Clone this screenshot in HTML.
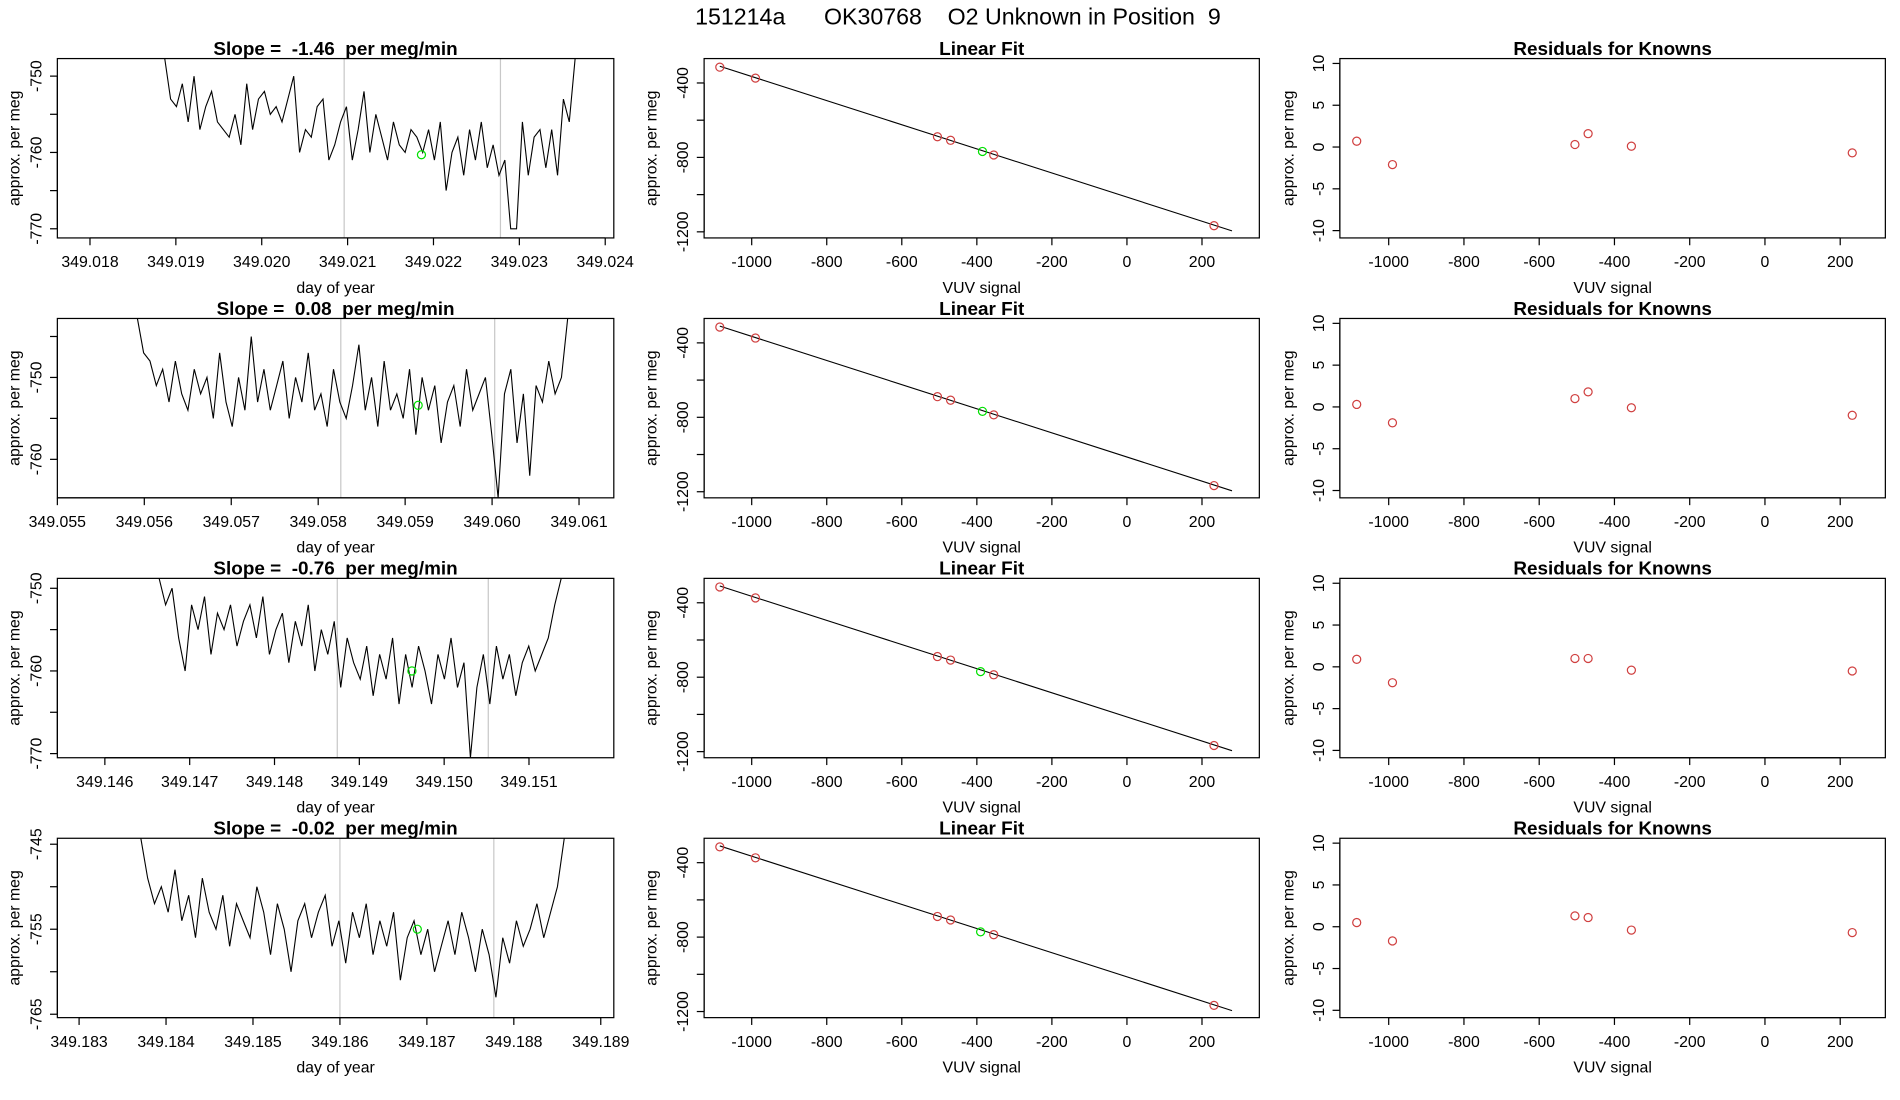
<!DOCTYPE html>
<html><head><meta charset="utf-8"><style>
html,body{margin:0;padding:0;background:#fff;}
svg{display:block;font-family:"Liberation Sans",sans-serif;}
text{white-space:pre;}
</style></head>
<body>
<svg id="fig" width="1900" height="1100" viewBox="0 0 1557 901.5" preserveAspectRatio="none" xmlns="http://www.w3.org/2000/svg">
<text x="785" y="20" font-size="19" text-anchor="middle" xml:space="preserve">151214a      OK30768    O2 Unknown in Position  9</text>
</svg>
<script>
// ---- data ----
const slopes = ["-1.46", "0.08", "-0.76", "-0.02"];
const tsStart = [349.01887, 349.05592, 349.14664, 349.18371];
const tsEnd = [349.02365, 349.06087, 349.15138, 349.18858];
const greenT = [349.02186, 349.05915, 349.14962, 349.18689];
const greenV = [-760.3, -753.4, -760, -755];
const vlines1 = [349.02096, 349.02278];
const vlines2 = [349.05826, 349.06003];
const vlines3 = [349.14874, 349.15052];
const vlines4 = [349.18600, 349.18777];
const series1 = [-745,-753,-754,-751,-756,-750,-757,-754,-752,-756,-757,-758,-755,-759,-751,-757,-753,-752,-755,-754,-756,-753,-750,-760,-757,-758,-754,-753,-761,-759,-756,-754,-761,-757,-752,-760,-755,-758,-761,-756,-759,-760,-757,-758,-760,-757,-761,-756,-765,-760,-758,-763,-757,-761,-756,-762,-759,-763,-761,-770,-770,-756,-763,-758,-757,-762,-757,-763,-753,-756,-745];
const series2 = [-742,-747,-748,-751,-749,-753,-748,-752,-754,-749,-752,-750,-755,-747,-753,-756,-750,-754,-745,-753,-749,-754,-751,-748,-755,-750,-753,-747,-754,-752,-756,-749,-753,-755,-751,-746,-754,-750,-756,-748,-754,-752,-755,-749,-757,-750,-754,-751,-758,-753,-751,-756,-749,-754,-752,-750,-757,-765,-752,-749,-758,-752,-762,-751,-753,-748,-752,-750,-742];
const series3 = [-747,-752,-750,-756,-760,-752,-755,-751,-758,-753,-755,-752,-757,-754,-752,-756,-751,-758,-755,-753,-759,-754,-757,-752,-760,-755,-758,-754,-762,-756,-759,-761,-757,-763,-758,-761,-756,-764,-758,-762,-757,-760,-764,-758,-761,-756,-762,-759,-771,-762,-758,-764,-757,-761,-758,-763,-759,-757,-760,-758,-756,-752,-747];
const series4 = [-744,-749,-752,-750,-753,-748,-754,-751,-756,-749,-753,-755,-751,-757,-752,-754,-756,-750,-753,-758,-752,-755,-760,-754,-752,-756,-753,-751,-757,-754,-759,-753,-756,-752,-758,-754,-757,-753,-761,-756,-754,-758,-755,-760,-757,-754,-758,-753,-756,-760,-755,-758,-763,-756,-759,-754,-757,-755,-752,-756,-753,-750,-744];
const xTicks1 = ["349.018","349.019","349.020","349.021","349.022","349.023","349.024"];
const xTicks2 = ["349.055","349.056","349.057","349.058","349.059","349.060","349.061"];
const xTicks3 = ["349.146","349.147","349.148","349.149","349.150","349.151"];
const xTicks4 = ["349.183","349.184","349.185","349.186","349.187","349.188","349.189"];
const yTicks1 = [-750,-755,-760,-765,-770];
const yTicks2 = [-745,-750,-755,-760];
const yTicks3 = [-750,-755,-760,-765,-770];
const yTicks4 = [-745,-750,-755,-760,-765];
const yLab1 = [-750,-760,-770];
const yLab2 = [-750,-760];
const yLab3 = [-750,-760,-770];
const yLab4 = [-745,-755,-765];
const yDom = [[-747.7,-771.2],[-742.8,-764.7],[-748.8,-770.5],[-744.3,-765.4]];
const xDom = [[349.01762,349.02410],[349.05500,349.06140],[349.14544,349.15200],[349.18275,349.18915]];
// linear fit + residuals
const knownX = [-1085,-990,-505,-470,-355,232];
const knownY = [-315,-374,-689,-708,-787,-1167];
const unkX = [-385,-385,-390,-390];
const unkY = [-768,-768,-770,-772];
const fitX = [-1085,280];
const fitY = [-310,-1195];
const resid1 = [0.7,-2.1,0.3,1.6,0.1,-0.7];
const resid2 = [0.3,-1.9,1.0,1.8,-0.1,-1.0];
const resid3 = [0.9,-1.9,1.0,1.0,-0.4,-0.5];
const resid4 = [0.5,-1.7,1.3,1.1,-0.4,-0.7];
const vuvTicks = [-1000,-800,-600,-400,-200,0,200];
const fitYTicks = [-400,-600,-800,-1000,-1200];
const fitYLab = [-400,-800,-1200];
const resTicks = [-10,-5,0,5,10];

const seriesAll=[series1,series2,series3,series4];
const xTicksAll=[xTicks1,xTicks2,xTicks3,xTicks4];
const yTicksAll=[yTicks1,yTicks2,yTicks3,yTicks4];
const yLabAll=[yLab1,yLab2,yLab3,yLab4];
const vlinesAll=[vlines1,vlines2,vlines3,vlines4];
const residAll=[resid1,resid2,resid3,resid4];

const svg=document.getElementById('fig');
const NS='http://www.w3.org/2000/svg';
function mk(tag,attrs,parent){const e=document.createElementNS(NS,tag);for(const k in attrs)e.setAttribute(k,attrs[k]);(parent||svg).appendChild(e);return e;}
function txt(s,x,y,size,anchor,parent,rot,bold){const e=mk('text',{x:x,y:y,'font-size':size,'text-anchor':anchor||'middle',fill:'#000'},parent);if(rot)e.setAttribute('transform','rotate(-90 '+x+' '+y+')');if(bold)e.setAttribute('font-weight','bold');e.textContent=s;return e;}
function lin(d0,d1,p0,p1){return v=>p0+(v-d0)*(p1-p0)/(d1-d0);}

const cols=[{l:47,r:503},{l:577,r:1032},{l:1098,r:1545}];
for(let row=0;row<4;row++){
  const top=48+row*213, bot=top+147;
  // ---- column 1 ----
  let g=mk('g',{});
  
  
  const xs=lin(xDom[row][0],xDom[row][1],cols[0].l,cols[0].r);
  const ys=lin(yDom[row][0],yDom[row][1],top,bot);
  vlinesAll[row].forEach(t=>{const e=mk('line',{x1:xs(t),x2:xs(t),y1:top,y2:bot,stroke:'#c8c8c8','stroke-width':1},g);
    });
  const s=seriesAll[row];const n=s.length;
  let d='';
  s.forEach((v,i)=>{const t=tsStart[row]+(tsEnd[row]-tsStart[row])*i/(n-1);const yy=Math.max(top,Math.min(bot,ys(v)));d+=(i?'L':'M')+xs(t).toFixed(1)+' '+yy.toFixed(1);});
  const ln=mk('path',{d:d,fill:'none',stroke:'#000','stroke-width':0.9},g);
  
  const gp=mk('circle',{cx:xs(greenT[row]),cy:ys(greenV[row]),r:3.3,fill:'none',stroke:'#00e000','stroke-width':1},g);
  
  mk('rect',{x:cols[0].l,y:top,width:cols[0].r-cols[0].l,height:bot-top,fill:'none',stroke:'#000','stroke-width':1},g);
  const xt=xTicksAll[row];
  mk('line',{x1:xs(+xt[0]),x2:xs(+xt[xt.length-1]),y1:bot,y2:bot,stroke:'#000'},g);
  xt.forEach(t=>{mk('line',{x1:xs(+t),x2:xs(+t),y1:bot,y2:bot+6,stroke:'#000'},g);
    const e=txt(t,xs(+t),bot+24,13,'middle',g);});
  const yt=yTicksAll[row];
  mk('line',{x1:cols[0].l,x2:cols[0].l,y1:ys(yt[0]),y2:ys(yt[yt.length-1]),stroke:'#000'},g);
  yt.forEach(v=>mk('line',{x1:cols[0].l-6,x2:cols[0].l,y1:ys(v),y2:ys(v),stroke:'#000'},g));
  yLabAll[row].forEach(v=>{const e=txt(String(v),cols[0].l-13,ys(v),13,'middle',g,true);});
  let e=txt('day of year',(cols[0].l+cols[0].r)/2,bot+45,13,'middle',g);
  e=txt('approx. per meg',16,(top+bot)/2,13,'middle',g,true);
  e=txt('Slope =  '+slopes[row]+'  per meg/min',(cols[0].l+cols[0].r)/2,top-3,15.5,'middle',g,false,true);
  

  // ---- column 2 ----
  g=mk('g',{});
  
  
  const x2=lin(-1000,200,616,985);
  const y2=lin(-400,-1200,top+20,top+142);
  mk('rect',{x:cols[1].l,y:top,width:cols[1].r-cols[1].l,height:bot-top,fill:'none',stroke:'#000'},g);
  const fl=mk('line',{x1:x2(fitX[0]),y1:y2(fitY[0]),x2:x2(fitX[1]),y2:y2(fitY[1]),stroke:'#000','stroke-width':0.9},g);
  
  knownX.forEach((v,i)=>{const c=mk('circle',{cx:x2(v),cy:y2(knownY[i]),r:3.3,fill:'none',stroke:'#d04040','stroke-width':1},g);
    });
  const u=mk('circle',{cx:x2(unkX[row]),cy:y2(unkY[row]),r:3.3,fill:'none',stroke:'#00e000','stroke-width':1},g);
  
  mk('line',{x1:x2(-1000),x2:x2(200),y1:bot,y2:bot,stroke:'#000'},g);
  vuvTicks.forEach(v=>{mk('line',{x1:x2(v),x2:x2(v),y1:bot,y2:bot+6,stroke:'#000'},g);
    const e=txt(String(v),x2(v),bot+24,13,'middle',g);});
  mk('line',{x1:cols[1].l,x2:cols[1].l,y1:y2(-400),y2:y2(-1200),stroke:'#000'},g);
  fitYTicks.forEach(v=>mk('line',{x1:cols[1].l-6,x2:cols[1].l,y1:y2(v),y2:y2(v),stroke:'#000'},g));
  fitYLab.forEach(v=>{const e=txt(String(v),cols[1].l-13,y2(v),13,'middle',g,true);});
  e=txt('VUV signal',(cols[1].l+cols[1].r)/2,bot+45,13,'middle',g);
  e=txt('approx. per meg',538,(top+bot)/2,13,'middle',g,true);
  e=txt('Linear Fit',(cols[1].l+cols[1].r)/2,top-3,15.5,'middle',g,false,true);

  // ---- column 3 ----
  g=mk('g',{});
  
  
  const x3=lin(-1000,200,1138,1508);
  const y3=lin(10,-10,top+4,top+141);
  mk('rect',{x:cols[2].l,y:top,width:cols[2].r-cols[2].l,height:bot-top,fill:'none',stroke:'#000'},g);
  residAll[row].forEach((v,i)=>{const c=mk('circle',{cx:x3(knownX[i]),cy:y3(v),r:3.3,fill:'none',stroke:'#d04040','stroke-width':1},g);
    });
  mk('line',{x1:x3(-1000),x2:x3(200),y1:bot,y2:bot,stroke:'#000'},g);
  vuvTicks.forEach(v=>{mk('line',{x1:x3(v),x2:x3(v),y1:bot,y2:bot+6,stroke:'#000'},g);
    const e=txt(String(v),x3(v),bot+24,13,'middle',g);});
  mk('line',{x1:cols[2].l,x2:cols[2].l,y1:y3(10),y2:y3(-10),stroke:'#000'},g);
  resTicks.forEach(v=>{mk('line',{x1:cols[2].l-6,x2:cols[2].l,y1:y3(v),y2:y3(v),stroke:'#000'},g);
    const e=txt(String(v),cols[2].l-13,y3(v),13,'middle',g,true);});
  e=txt('VUV signal',(cols[2].l+cols[2].r)/2,bot+45,13,'middle',g);
  e=txt('approx. per meg',1060,(top+bot)/2,13,'middle',g,true);
  e=txt('Residuals for Knowns',(cols[2].l+cols[2].r)/2,top-3,15.5,'middle',g,false,true);
}
</script>
</body></html>
